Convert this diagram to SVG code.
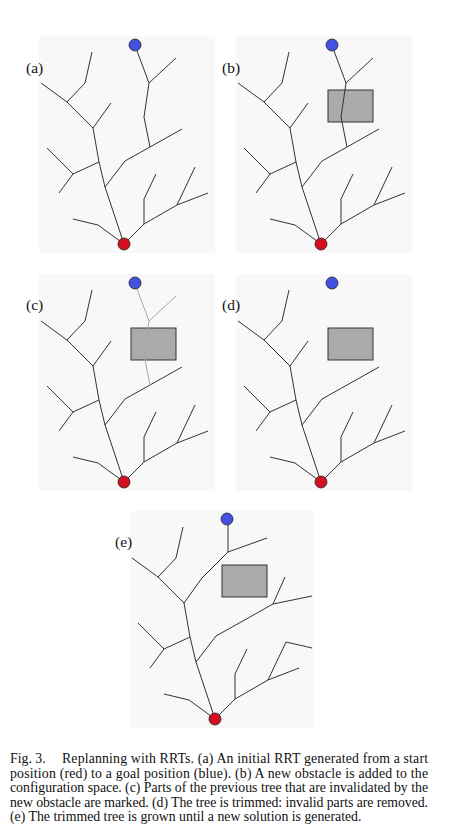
<svg xmlns="http://www.w3.org/2000/svg" xmlns:xlink="http://www.w3.org/1999/xlink" width="454" height="832" viewBox="0 0 454 832">
<style>
.bg{fill:#f8f8f8}
.tree{fill:none;stroke:#333;stroke-width:1;stroke-linejoin:round}
.inv{fill:none;stroke:#a8a8a8;stroke-width:1}
.obs{fill:#aaaaaa;stroke:#333;stroke-width:1}
.goal{fill:#4450e0;stroke:#222;stroke-width:0.8}
.start{fill:#d40f20;stroke:#222;stroke-width:0.8}
.lbl{font-family:"Liberation Serif","Times New Roman",serif;font-size:15.5px;fill:#111}
.cap{font-family:"Liberation Serif","Times New Roman",serif;font-size:13.8px;fill:#111}
</style>
<defs>
<path id="base" d="M124,244 L105,187 L99,162 L93,128 L67,102 L41,83 M67,102 L85,83 L92,52 M99,162 L73,174 L47,148 M73,174 L59,193 M105,187 L125,161 L150,147 L182,129 M124,244 L98,225 L73,219 M124,244 L144,224 L144,199 L156,174 M144,224 L177,205 L195,167 M177,205 L208,193"/>
<path id="stub" d="M93,128 L111,103"/>
<path id="goalpath" d="M150,147 L144,117 L149,83 L137,51 M149,83 L176,58"/>
<rect id="panelbg" x="39" y="36" width="176" height="217"/>
<rect id="obstacle" x="131" y="90" width="45" height="32"/>
</defs>

<g id="panel-a">
<use href="#panelbg" class="bg"/>
<text class="lbl" x="26" y="73">(a)</text>
<g class="tree"><use href="#base"/><use href="#stub"/><use href="#goalpath"/></g>
<circle class="goal" cx="135" cy="45" r="6"/>
<circle class="start" cx="124" cy="244" r="6"/>
</g>

<g id="panel-b" transform="translate(197,0)">
<use href="#panelbg" class="bg"/>
<text class="lbl" x="25" y="73">(b)</text>
<use href="#obstacle" class="obs"/>
<g class="tree"><use href="#base"/><use href="#stub"/><use href="#goalpath"/></g>
<circle class="goal" cx="135" cy="45" r="6"/>
<circle class="start" cx="124" cy="244" r="6"/>
</g>

<g id="panel-c" transform="translate(0,238)">
<use href="#panelbg" class="bg"/>
<text class="lbl" x="26" y="72">(c)</text>
<use href="#obstacle" class="obs"/>
<g class="tree"><use href="#base"/><use href="#stub"/></g>
<use href="#goalpath" class="inv"/>
<circle class="goal" cx="135" cy="45" r="6"/>
<circle class="start" cx="124" cy="244" r="6"/>
</g>

<g id="panel-d" transform="translate(197,238)">
<use href="#panelbg" class="bg"/>
<text class="lbl" x="25" y="72">(d)</text>
<use href="#obstacle" class="obs"/>
<g class="tree"><use href="#base"/><use href="#stub"/></g>
<circle class="goal" cx="135" cy="45" r="6"/>
<circle class="start" cx="124" cy="244" r="6"/>
</g>

<g id="panel-e" transform="translate(91,475)">
<rect class="bg" x="39" y="36" width="184" height="217"/>
<text class="lbl" x="24" y="72">(e)</text>
<use href="#obstacle" class="obs"/>
<g class="tree"><use href="#base"/>
<path d="M93,128 L111,103 L137,77 L137,50 M137,77 L176,63 M182,129 L221,121 M182,129 L194,102 M195,167 L221,173"/></g>
<circle class="goal" cx="136" cy="44" r="6"/>
<circle class="start" cx="124" cy="244" r="6"/>
</g>

<g id="caption" class="cap">
<text x="10" y="763">Fig. 3.</text>
<text x="62" y="763" textLength="366" lengthAdjust="spacing">Replanning with RRTs. (a) An initial RRT generated from a start</text>
<text x="10" y="777.5" textLength="418" lengthAdjust="spacing">position (red) to a goal position (blue). (b) A new obstacle is added to the</text>
<text x="10" y="792" textLength="418" lengthAdjust="spacing">configuration space. (c) Parts of the previous tree that are invalidated by the</text>
<text x="10" y="806.5" textLength="418" lengthAdjust="spacing">new obstacle are marked. (d) The tree is trimmed: invalid parts are removed.</text>
<text x="10" y="821">(e) The trimmed tree is grown until a new solution is generated.</text>
</g>
</svg>
